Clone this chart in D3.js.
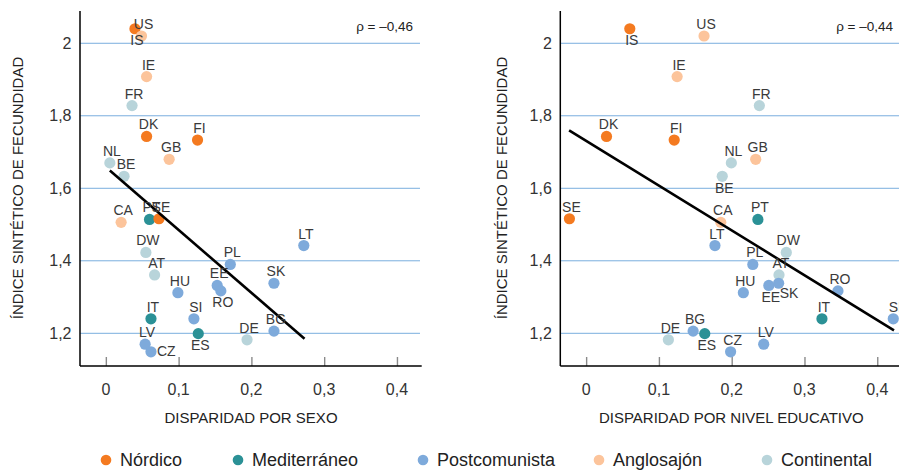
<!DOCTYPE html>
<html>
<head>
<meta charset="utf-8">
<script src="https://cdn.jsdelivr.net/npm/d3@7"></script>
<style>
  html, body { margin: 0; padding: 0; background: #fff; }
  svg { display: block; font-family: "Liberation Sans", Arial, Helvetica, sans-serif; }
</style>
</head>
<body>
<svg id="chart" width="899" height="471"></svg>
<script>
// ---------------- DATA ----------------
const countries = ["IS","US","IE","FR","DK","FI","GB","NL","BE","CA","PT","SE","DW","AT","HU","EE","RO","PL","LT","SK","IT","SI","ES","BG","DE","LV","CZ"];
const groups = ["Nórdico","Anglosajón","Anglosajón","Continental","Nórdico","Nórdico","Anglosajón","Continental","Continental","Anglosajón","Mediterráneo","Nórdico","Continental","Continental","Postcomunista","Postcomunista","Postcomunista","Postcomunista","Postcomunista","Postcomunista","Mediterráneo","Postcomunista","Mediterráneo","Postcomunista","Continental","Postcomunista","Postcomunista"];
const fertility = [2.04,2.02,1.908,1.828,1.743,1.733,1.68,1.67,1.633,1.506,1.514,1.516,1.423,1.361,1.312,1.332,1.317,1.39,1.442,1.338,1.24,1.24,1.199,1.206,1.182,1.17,1.149];
const disparitySex = [0.040,0.049,0.056,0.036,0.056,0.126,0.087,0.0055,0.025,0.021,0.060,0.073,0.055,0.067,0.099,0.153,0.158,0.171,0.272,0.231,0.062,0.121,0.127,0.231,0.194,0.054,0.062];
const disparityEdu = [0.060,0.162,0.125,0.238,0.028,0.121,0.233,0.1995,0.187,0.185,0.236,-0.023,0.275,0.265,0.216,0.251,0.346,0.229,0.177,0.2645,0.324,0.422,0.163,0.147,0.113,0.244,0.1985];
const trendSexX = [0.0055, 0.273];
const trendSexY = [1.649, 1.185];
const trendEduX = [-0.0234, 0.423];
const trendEduY = [1.760, 1.208];
const yTicks = [1.2, 1.4, 1.6, 1.8, 2];
const yTickLabels = ["1,2","1,4","1,6","1,8","2"];
const xTicks = [0, 0.1, 0.2, 0.3, 0.4];
const xTickLabels = ["0","0,1","0,2","0,3","0,4"];
const groupNames = ["Nórdico","Mediterráneo","Postcomunista","Anglosajón","Continental"];
const rhoSex = "ρ = –0,46";
const rhoEdu = "ρ = –0,44";
const yTitle = "ÍNDICE SINTÉTICO DE FECUNDIDAD";
const xTitleSex = "DISPARIDAD POR SEXO";
const xTitleEdu = "DISPARIDAD POR NIVEL EDUCATIVO";

// ---------------- STYLE ----------------
const groupColors = {
  "Nórdico": "#f47a20",
  "Mediterráneo": "#2b9196",
  "Postcomunista": "#7eaadb",
  "Anglosajón": "#fcc49b",
  "Continental": "#b8d4da"
};
// label placement (non-default)
const labelPlaceSex = { IS: "below", RO: "below", ES: "below", CZ: "right" };
const labelPlaceEdu = { IS: "below", BE: "below", SK: "belowRight", EE: "below", ES: "below" };

const svg = d3.select("#chart");
const yDomain = [1.1098, 2.089];
const xDomain = [-0.0355, 0.434];
const plotTop = 11, plotBottom = 366;

function drawPanel(opt) {
  const g = svg.append("g");
  const x = d3.scaleLinear().domain(xDomain).range([opt.left, opt.left + 341.7]);
  const y = d3.scaleLinear().domain(yDomain).range([plotBottom, plotTop]);

  // gridlines
  g.append("g").selectAll("line").data(yTicks).join("line")
    .attr("x1", opt.left).attr("x2", opt.gridRight)
    .attr("y1", d => y(d)).attr("y2", d => y(d))
    .attr("stroke", "#7aaede").attr("stroke-width", 1);

  // x axis (inner ticks)
  const xAxis = d3.axisBottom(x).tickValues(xTicks).tickSize(-9).tickFormat("");
  const ax = g.append("g").attr("transform", `translate(0,${plotBottom})`).call(xAxis);
  ax.select(".domain").remove();
  ax.selectAll(".tick line").attr("stroke", "#8a8a8a").attr("stroke-width", 1.4);
  g.append("g").selectAll("text").data(xTicks).join("text")
    .attr("x", d => x(d)).attr("y", 395)
    .attr("text-anchor", "middle").attr("font-size", 16).attr("fill", "#333")
    .text((d, i) => xTickLabels[i]);

  // y tick labels
  g.append("g").selectAll("text").data(yTicks).join("text")
    .attr("x", opt.left - 8.5).attr("y", d => y(d)).attr("dy", "0.35em")
    .attr("text-anchor", "end").attr("font-size", 16).attr("fill", "#333")
    .text((d, i) => yTickLabels[i]);

  // axis lines
  g.append("line").attr("x1", opt.left).attr("x2", opt.left).attr("y1", plotTop).attr("y2", plotBottom)
    .attr("stroke", "#000").attr("stroke-width", 1.5);
  g.append("line").attr("x1", opt.left).attr("x2", opt.left + 341.7).attr("y1", plotBottom).attr("y2", plotBottom)
    .attr("stroke", "#000").attr("stroke-width", 1.5);

  // titles
  g.append("text").attr("x", opt.left + 171).attr("y", 423)
    .attr("text-anchor", "middle").attr("font-size", 15).attr("fill", "#222")
    .text(opt.xTitle);
  g.append("text")
    .attr("transform", `translate(${opt.yTitleX},188) rotate(-90)`)
    .attr("text-anchor", "middle").attr("dy", "0.35em").attr("font-size", 15).attr("fill", "#222")
    .text(yTitle);
  g.append("text").attr("x", opt.rhoRight).attr("y", 31)
    .attr("text-anchor", "end").attr("font-size", 13.5).attr("fill", "#222")
    .text(opt.rho);

  const data = countries.map((c, i) => ({ c, g: groups[i], x: opt.xs[i], y: fertility[i] }));

  // dots
  g.append("g").selectAll("circle").data(data).join("circle")
    .attr("cx", d => x(d.x)).attr("cy", d => y(d.y)).attr("r", 5.6)
    .attr("fill", d => groupColors[d.g]);

  // trend line
  g.append("line")
    .attr("x1", x(opt.tx[0])).attr("y1", y(opt.ty[0]))
    .attr("x2", x(opt.tx[1])).attr("y2", y(opt.ty[1]))
    .attr("stroke", "#000").attr("stroke-width", 2.6);

  // labels
  g.append("g").selectAll("text").data(data).join("text")
    .attr("font-size", 14).attr("fill", "#3a3a3a")
    .each(function(d) {
      const p = opt.place[d.c] || "above";
      const cx = x(d.x), cy = y(d.y);
      const t = d3.select(this);
      if (p === "above") t.attr("x", cx + 2).attr("y", cy - 7).attr("text-anchor", "middle");
      else if (p === "below") t.attr("x", cx + 2).attr("y", cy + 16.5).attr("text-anchor", "middle");
      else if (p === "right") t.attr("x", cx + 6).attr("y", cy + 4.5).attr("text-anchor", "start");
      else if (p === "belowRight") t.attr("x", cx + 1).attr("y", cy + 15).attr("text-anchor", "start");
    })
    .text(d => d.c);
}

drawPanel({ left: 80, gridRight: 420, xs: disparitySex, tx: trendSexX, ty: trendSexY,
  place: labelPlaceSex, xTitle: xTitleSex, yTitleX: 18, rho: rhoSex, rhoRight: 413 });
drawPanel({ left: 560.3, gridRight: 905, xs: disparityEdu, tx: trendEduX, ty: trendEduY,
  place: labelPlaceEdu, xTitle: xTitleEdu, yTitleX: 502, rho: rhoEdu, rhoRight: 893 });

// legend
const legendX = [106, 238, 423, 599, 767];
const lg = svg.append("g").selectAll("g").data(groupNames).join("g")
  .attr("transform", (d, i) => `translate(${legendX[i]},460)`);
lg.append("circle").attr("r", 5.3).attr("fill", d => groupColors[d]);
lg.append("text").attr("x", 14).attr("dy", "0.35em").attr("font-size", 18).attr("fill", "#222").text(d => d);
</script>
</body>
</html>
